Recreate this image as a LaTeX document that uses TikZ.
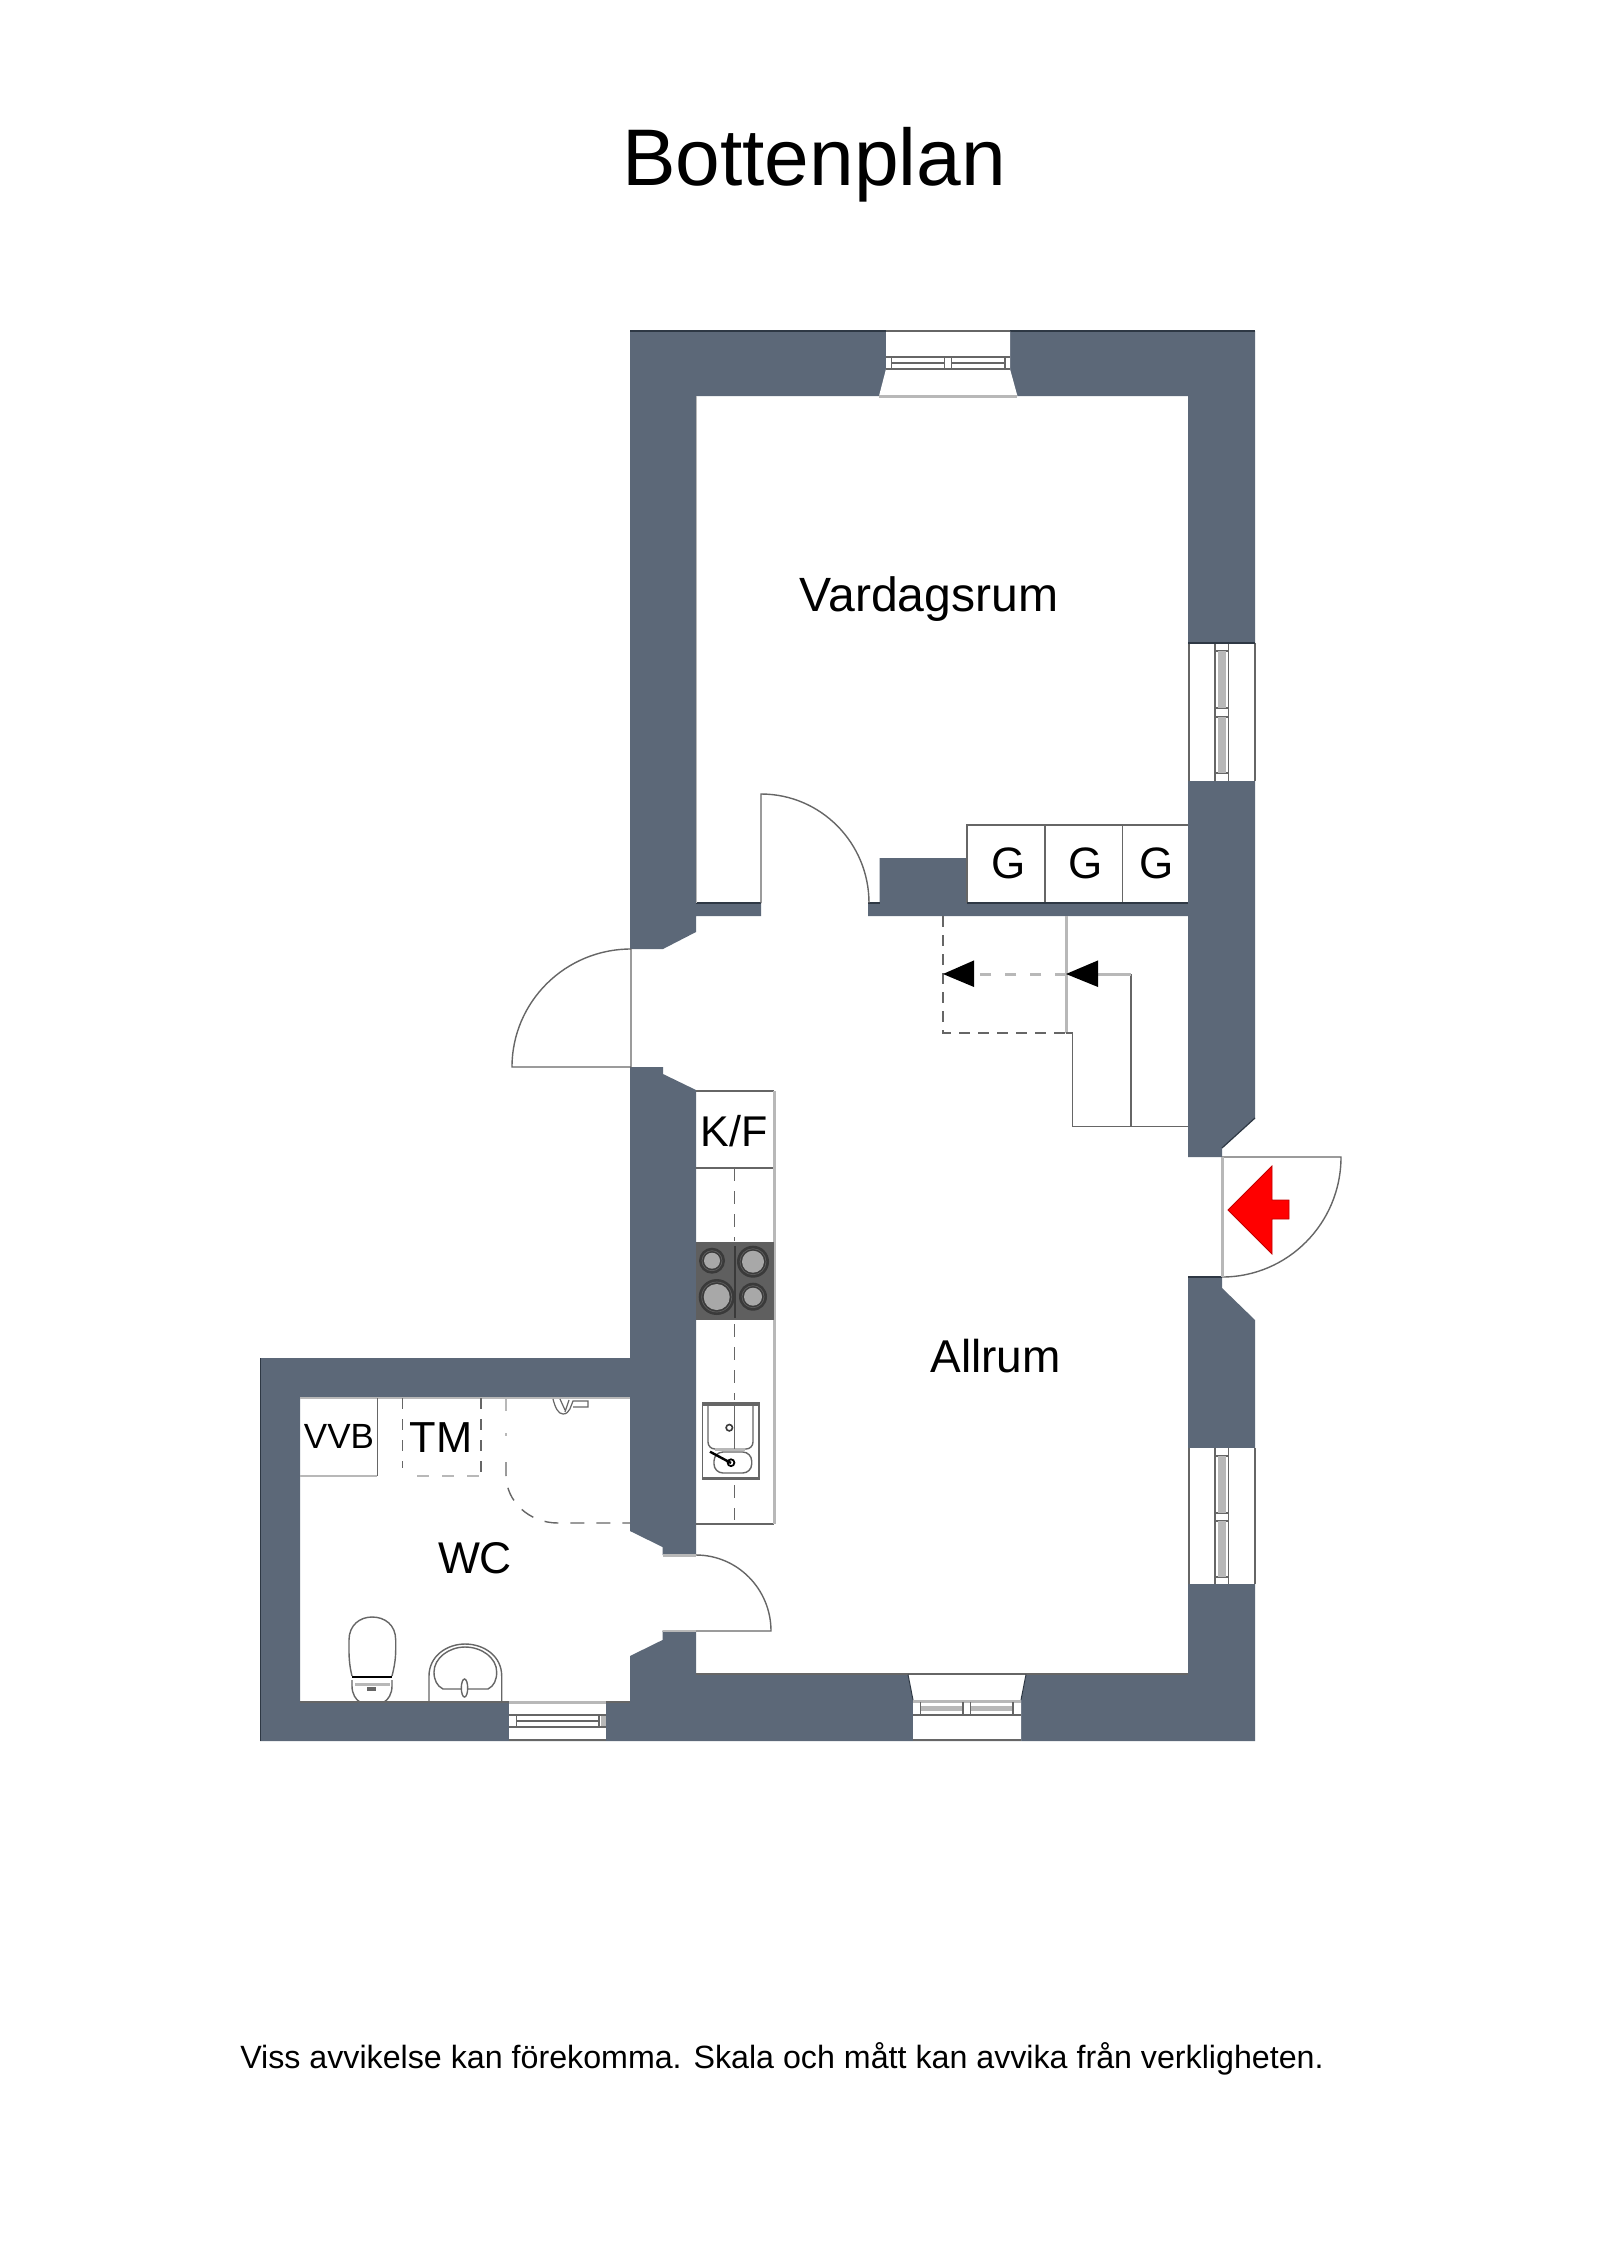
\documentclass[tikz,border=0pt]{standalone}
\usepackage{fontspec}
\setmainfont{Liberation Sans}
\definecolor{wallc}{HTML}{5C6878}
\definecolor{walledge}{HTML}{2E3844}
\definecolor{linec}{HTML}{666666}
\definecolor{paleline}{HTML}{B8B8B8}
\definecolor{hobc}{HTML}{5F5F5F}
\definecolor{ringc}{HTML}{3A3A3A}
\definecolor{platec}{HTML}{A8A8A8}
\tikzset{
  wall/.style={fill=wallc,draw=none},
  opening/.style={fill=white,draw=none},
  thin line/.style={draw=linec,line width=1.4pt},
  pale line/.style={draw=paleline,line width=3pt},
  dashline/.style={draw=linec,line width=1.4pt,dash pattern=on 11pt off 8pt},
  paledash/.style={draw=paleline,line width=3pt,dash pattern=on 11pt off 14pt},
  label/.style={anchor=base,inner sep=0pt,text=black},
  stairtip/.style={fill=black,draw=none},
}
\begin{document}
\begin{tikzpicture}[x=1pt,y=-1pt]
\useasboundingbox (0,0) rectangle (1600,2264);
\fill[white] (0,0) rectangle (1600,2264);
% walls
\path[wall] (630,949) -- (630,331) -- (1255,331) -- (1255,1118) -- (1222,1148) -- (1222,1157) -- (1188,1157) -- (1188,916) -- (868,916) -- (868,903) -- (879.5,903) -- (879.5,858) -- (967,858) -- (967,903) -- (1188,903) -- (1188,396) -- (696,396) -- (696,903) -- (761,903) -- (761,916) -- (696,916) -- (696,932) -- (663,949) -- cycle;
\path[wall] (1188,1277) -- (1222,1277) -- (1222,1288) -- (1255,1320) -- (1255,1741) -- (260,1741) -- (260,1358) -- (630,1358) -- (630,1067) -- (663,1067) -- (663,1074) -- (696,1090) -- (696,1555) -- (662.5,1555) -- (662.5,1547) -- (630,1531) -- (630,1398) -- (300,1398) -- (300,1702) -- (630,1702) -- (630,1656) -- (662.5,1640) -- (662.5,1631) -- (696,1631) -- (696,1674) -- (1188,1674) -- cycle;
% wall edge accents
\draw[walledge,line width=1.2pt] (630,331) -- (886,331) (1010,331) -- (1255,331);
\draw[walledge,line width=1.2pt] (696,903) -- (761,903) (868,903) -- (879.5,903) (967,903) -- (1188,903);
\draw[walledge,line width=0.8pt] (260,1358) -- (260,1741);
\draw[walledge,line width=1.2pt] (1255,1118) -- (1222,1148);
\draw[walledge,line width=1.2pt] (1188,1277) -- (1222,1277);
\draw[paleline,line width=1.6pt] (696.5,396) -- (696.5,903);
\draw[paleline,line width=1.6pt] (300,1398) -- (630,1398);
\draw[linec,line width=1.4pt] (696,1674) -- (1188,1674);
\draw[linec,line width=1.4pt] (300,1702) -- (509,1702);
\draw[linec,line width=1.4pt] (606,1702) -- (630,1702);
% top window
\path[opening] (886,331) -- (1010,331) -- (1010,369) -- (1017.4,396) -- (879,396) -- (886,369) -- cycle;
\draw[thin line] (886,331) -- (1010,331);
\draw[thin line] (886,357) -- (1010,357) (886,369) -- (1010,369) (891.5,363) -- (944.6,363) (951.3,363) -- (1005,363);
\draw[thin line] (891.5,357) -- (891.5,369) (944.6,357) -- (944.6,369) (951.3,357) -- (951.3,369) (1005,357) -- (1005,369);
\draw[paleline,line width=3pt] (879,396) -- (1017.4,396);
% right windows
\path[opening] (1188,643) rectangle (1255,781);
\path[opening] (1188,1448) rectangle (1255,1584);
\draw[thin line] (1189,643) -- (1189,781) (1255,643) -- (1255,781) (1215,643) -- (1215,781) (1228.6,643) -- (1228.6,781);
\draw[thin line] (1215,651) -- (1228.6,651) (1215,708) -- (1228.6,708) (1215,717) -- (1228.6,717) (1215,773) -- (1228.6,773);
\draw[paleline,line width=8pt] (1222,651) -- (1222,708) (1222,717) -- (1222,773);
\draw[walledge,line width=1.2pt] (1188,643) -- (1255,643);
\draw[thin line] (1189,1448) -- (1189,1584) (1255,1448) -- (1255,1584) (1215,1448) -- (1215,1584) (1228.6,1448) -- (1228.6,1584);
\draw[thin line] (1215,1456) -- (1228.6,1456) (1215,1513) -- (1228.6,1513) (1215,1521) -- (1228.6,1521) (1215,1577) -- (1228.6,1577);
\draw[paleline,line width=8pt] (1222,1456) -- (1222,1513) (1222,1521) -- (1222,1577);
% bottom window
\path[opening] (913,1741) -- (1021,1741) -- (1021,1700) -- (1026,1675) -- (908,1675) -- (913,1700) -- cycle;
\draw[walledge,line width=1pt] (908,1674.5) -- (913,1700) (1026,1674.5) -- (1021,1700);
\draw[thin line] (913,1715) -- (1021,1715) (913,1740) -- (1021,1740);
\draw[paleline,line width=3pt] (913,1701) -- (1021,1701);
\draw[paleline,line width=5pt] (920.5,1708) -- (963,1708) (970.5,1708) -- (1013,1708);
\draw[thin line] (920.5,1702) -- (920.5,1715) (963,1702) -- (963,1715) (970.5,1702) -- (970.5,1715) (1013,1702) -- (1013,1715);
% WC window
\path[opening] (509,1702.5) rectangle (606,1741);
\draw[paleline,line width=3pt] (509,1702) -- (606,1702);
\draw[thin line] (509,1715) -- (606,1715) (516.7,1721) -- (599,1721) (509,1727) -- (606,1727) (516.7,1715) -- (516.7,1727) (599,1715) -- (599,1727);
\draw[paleline,line width=5pt] (603,1716) -- (603,1726);
\draw[linec,line width=1.2pt] (509,1740) -- (606,1740);
% doors
\draw[thin line] (761,903) -- (761,794) .. controls (820.6,794) and (869,842.8) .. (869,903);
\draw[thin line] (631,949) -- (631,1067) -- (512,1067) .. controls (512,1001.8) and (565.3,949) .. (631,949);
\draw[thin line] (1222,1157) -- (1341,1157) .. controls (1341,1223.3) and (1287.7,1277) .. (1222,1277);
\draw[pale line] (1222,1157) -- (1222,1277);
\draw[thin line] (662.5,1631) -- (771,1631) .. controls (771,1589) and (737.4,1555) .. (696,1555);
\draw[paleline,line width=2.5pt] (662.5,1555.5) -- (696,1555.5);
\draw[paleline,line width=2.5pt] (662.5,1631) -- (696,1631);
% entry arrow
\path[fill=red,draw=red!75!black,line width=0.8pt] (1228,1210) -- (1272,1166) -- (1272,1200) -- (1289,1200) -- (1289,1219) -- (1272,1219) -- (1272,1254) -- cycle;
% closets
\draw[thin line] (967,903) -- (967,825) -- (1188,825) (1045,825) -- (1045,903) (1122.7,825) -- (1122.7,903);
\draw[walledge,line width=1.2pt] (967,903) -- (1188,903);
\node[label,font=\fontsize{44}{44}\selectfont] (g1) at (1008.7,878) {G};
\node[label,font=\fontsize{44}{44}\selectfont] (g2) at (1086,878) {G};
\node[label,font=\fontsize{44}{44}\selectfont] (g3) at (1157,878) {G};
% stairs
\draw[dashline] (943,916) -- (943,1033) -- (1066,1033);
\draw[pale line] (1066,916) -- (1066,1033);
\draw[thin line] (1066,1033) -- (1072.7,1033) -- (1072.7,1126.4) -- (1188,1126.4) (1131,974) -- (1131,1126.4);
\draw[pale line] (1131,974) -- (1098,974);
\draw[paledash] (1066,974) -- (974,974);
\path[stairtip] (1066,974) -- (1098,960.4) -- (1098,987) -- cycle;
\path[stairtip] (943,974) -- (974,960.4) -- (974,987) -- cycle;
% kitchen
\draw[thin line] (696,1091) -- (774,1091) (696,1168) -- (774,1168) (696,1524) -- (774,1524);
\draw[pale line] (774,1091) -- (774,1524);
\draw[dashline,dash pattern=on 13pt off 10pt] (734.7,1168) -- (734.7,1241);
\draw[dashline,dash pattern=on 13pt off 10pt] (734.7,1324) -- (734.7,1400);
\node[label,font=\fontsize{43}{43}\selectfont] (kf) at (734.2,1146.7) {K/F};
\fill[hobc] (696,1241.7) rectangle (774,1320);
\draw[ringc,line width=1.4pt] (735,1246) -- (735,1318);
\foreach \cx/\cy/\rr in {712/1260.7/13,753/1261.7/16,716.7/1297/18,753/1296.7/14}{
  \fill[ringc] (\cx,\cy) circle[radius=\rr pt];
  \draw[hobc,line width=0.7pt] (\cx,\cy) circle[radius=\rr pt - 3pt];
  \fill[platec] (\cx,\cy) circle[radius=\rr pt - 5pt];
}
\fill[white] (702.7,1402.7) rectangle (759,1479);
\draw[thin line] (702.7,1402.7) rectangle (759,1479);
\draw[linec,line width=3.5pt] (702.7,1404) -- (759,1404);
\draw[linec,line width=2.5pt] (703,1478) -- (759,1478);
\draw[thin line,rounded corners=7pt] (708,1404) -- (708,1449) -- (753,1449) -- (753,1404);
\draw[thin line,rounded corners=9pt] (714,1452) rectangle (751.7,1473);
\draw[paleline,line width=3pt] (715,1449.5) -- (745,1449.5);
\draw[linec,line width=1.4pt] (734.7,1404) -- (734.7,1449);
\draw[black,line width=2.4pt] (710,1451.7) -- (731,1463);
\draw[ringc,line width=1.6pt] (729.3,1427.7) circle[radius=3.2pt];
\draw[black,line width=1.8pt] (731,1462.7) circle[radius=3.4pt];
\draw[dashline,dash pattern=on 13pt off 10pt] (734.7,1485) -- (734.7,1520);
% WC fixtures
\draw[linec,line width=1.4pt] (377.3,1398) -- (377.3,1476);
\draw[paleline,line width=2.6pt] (300,1476) -- (377.3,1476);
\draw[dashline,dash pattern=on 11pt off 10pt] (402.7,1398) -- (402.7,1468);
\draw[dashline,dash pattern=on 11pt off 10pt] (481,1398) -- (481,1476);
\draw[paleline,line width=2.6pt,dash pattern=on 12pt off 13pt] (417,1476) -- (481,1476);
\draw[paleline,line width=2.6pt,dash pattern=on 13pt off 22pt] (506,1398) -- (506,1436);
\draw[dashline,dash pattern=on 14pt off 12pt] (506,1462) -- (506,1475) .. controls (506,1501.5) and (529.3,1523) .. (558,1523) -- (630,1523);
\draw[linec,line width=1.2pt] (553,1399) .. controls (555,1407) and (558,1414) .. (563,1414) .. controls (570,1414) and (571,1405) .. (573,1401) -- (588,1401) -- (588,1407) -- (573,1407);
\draw[linec,line width=1.2pt] (560,1399) -- (565,1410) (569,1400) -- (565,1412);
\node[label,font=\fontsize{35}{35}\selectfont] (vvb) at (339,1448) {VVB};
\node[label,font=\fontsize{43.4}{43.4}\selectfont] (tm) at (441.3,1452) {TM};
\node[label,font=\fontsize{44.4}{44.4}\selectfont] (wc) at (475,1573) {WC};
% toilet
\draw[thin line] (352,1676) .. controls (350,1668) and (349,1660) .. (349,1650) -- (349,1640) .. controls (349,1625) and (360,1617) .. (372,1617) .. controls (385,1617) and (395.7,1625) .. (395.7,1640) -- (395.7,1650) .. controls (395.7,1660) and (394,1668) .. (392,1676);
\draw[black,line width=2.4pt] (352,1676.7) -- (392,1676.7);
\draw[paleline,line width=3pt] (355,1684) -- (390,1684);
\draw[thin line] (352,1680) -- (352,1686) .. controls (352,1694) and (356,1700) .. (360,1702) -- (384,1702) .. controls (388,1700) and (392,1694) .. (392,1686) -- (392,1680);
\fill[linec] (367,1687) rectangle (376,1691);
% wash basin
\draw[thin line] (429,1702) -- (429,1676) .. controls (429,1656) and (447,1644) .. (465,1644) .. controls (484,1644) and (501.7,1656) .. (501.7,1676) -- (501.7,1702);
\draw[thin line] (443,1689) .. controls (437,1686) and (434,1680) .. (434,1672) .. controls (434,1658) and (449,1647) .. (465,1647) .. controls (482,1647) and (496.7,1658) .. (496.7,1672) .. controls (496.7,1680) and (494,1686) .. (488,1689) -- cycle;
\draw[thin line,fill=white] (464.5,1688) ellipse[x radius=3.2pt,y radius=9pt];
% texts
\node[label,font=\fontsize{80.3}{81}\selectfont] (title) at (814,185.5) {Bottenplan};
\node[label,font=\fontsize{48.1}{48}\selectfont] (vard) at (929,611.7) {Vardagsrum};
\node[label,font=\fontsize{46}{46}\selectfont] (allr) at (995.5,1372) {Allrum};
\node[label,font=\fontsize{32.2}{33}\selectfont] (foot) at (782,2068) {Viss avvikelse kan förekomma. Skala och mått kan avvika från verkligheten.};
\end{tikzpicture}
\end{document}
